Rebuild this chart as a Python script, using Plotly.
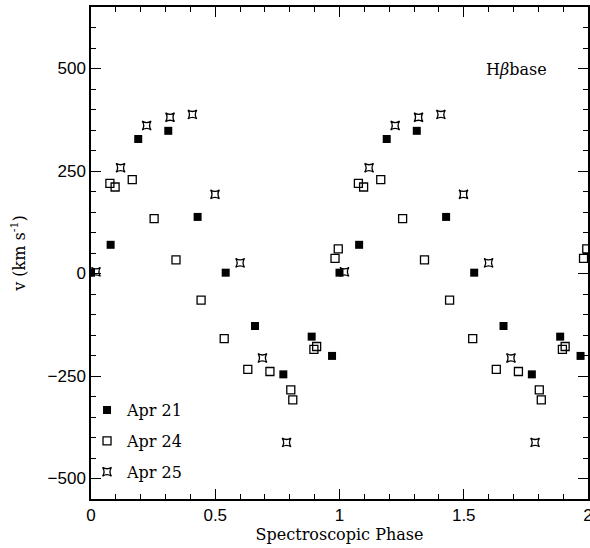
import plotly.graph_objects as go

# Phases (0-1) and radial velocities (km/s); plotted twice (phase and phase+1)
apr21_phase = [0.0, 0.079, 0.19, 0.311, 0.429, 0.542, 0.66, 0.774, 0.888, 0.97]
apr21_v = [2, 70, 328, 348, 138, 2, -128, -246, -154, -201]

apr24_phase = [0.076, 0.097, 0.166, 0.254, 0.342, 0.443, 0.536, 0.631, 0.72, 0.804,
               0.812, 0.897, 0.908, 0.982, 0.995]
apr24_v = [220, 211, 229, 134, 33, -65, -159, -234, -239, -284, -308, -185, -178, 37, 60]

apr25_phase = [0.02, 0.119, 0.224, 0.318, 0.408, 0.499, 0.6, 0.69, 0.787]
apr25_v = [4, 258, 361, 381, 388, 193, 26, -206, -412]

x_ticks = [0, 0.5, 1, 1.5, 2]
x_tick_text = ["0", "0.5", "1", "1.5", "2"]
y_ticks = [-500, -250, 0, 250, 500]

SERIF = "DejaVu Serif"
SANS = "Liberation Sans, Arial, sans-serif"


def twice(ph, v):
    return list(ph) + [p + 1 for p in ph], list(v) + list(v)


fig = go.Figure()
series = [
    ("Apr 21", apr21_phase, apr21_v, dict(symbol="square", size=8, color="black")),
    ("Apr 24", apr24_phase, apr24_v, dict(symbol="square-open", size=8, color="black",
                                          line=dict(width=1.3, color="black"))),
    ("Apr 25", apr25_phase, apr25_v, dict(symbol="star-square-open", size=8, color="black",
                                          line=dict(width=1.3, color="black"))),
]
for name, ph, v, mk in series:
    xs, ys = twice(ph, v)
    fig.add_trace(go.Scatter(x=xs, y=ys, mode="markers", name=name, marker=mk,
                             legendgroup=name, cliponaxis=True))

axis_common = dict(
    showline=True, linecolor="black", linewidth=1.5, mirror="allticks",
    ticks="inside", ticklen=10, tickwidth=1.2, tickcolor="black",
    showgrid=False, zeroline=False, automargin=False, ticklabeloverflow="allow",
    tickfont=dict(family=SANS, size=17, color="black"),
)

fig.update_xaxes(
    range=[0, 2], tickvals=x_ticks, ticktext=x_tick_text,
    minor=dict(dtick=0.1, ticks="inside", ticklen=5, tickwidth=1, tickcolor="black"),
    title=dict(text="Spectroscopic Phase", font=dict(family=SERIF, size=16, color="black"),
               standoff=2),
    **axis_common,
)
fig.update_yaxes(
    range=[-550, 650], tickvals=y_ticks,
    minor=dict(dtick=50, ticks="inside", ticklen=5, tickwidth=1, tickcolor="black"),
    title=dict(text="v (km s<sup>-1</sup>)", font=dict(family=SERIF, size=16, color="black"),
               standoff=18),
    **axis_common,
)

fig.add_annotation(x=0.921, y=0.872, xref="paper", yref="paper", xanchor="right",
                   yanchor="middle", showarrow=False, text="H<i>β</i>base",
                   font=dict(family=SERIF, size=16, color="black"))

fig.update_layout(
    width=590, height=548,
    margin=dict(l=91, r=2, t=7, b=49, autoexpand=False),
    paper_bgcolor="white", plot_bgcolor="white",
    showlegend=True,
    legend=dict(x=-0.008, y=0.215, xanchor="left", yanchor="top",
                bgcolor="rgba(0,0,0,0)", borderwidth=0,
                font=dict(family=SERIF, size=16, color="black"),
                tracegroupgap=7, itemsizing="trace"),
)

fig.write_html("out.html", config={"displayModeBar": False},
               post_script="document.body.style.margin='0';document.body.style.overflow='hidden';")
